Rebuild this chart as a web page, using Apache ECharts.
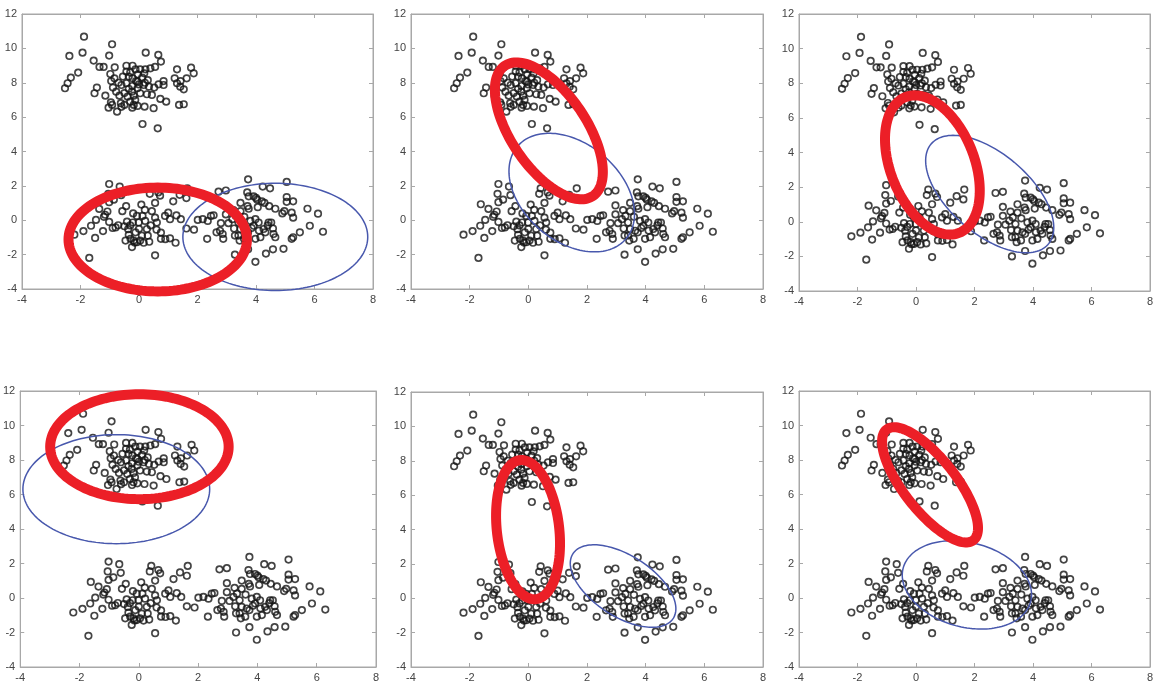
<!DOCTYPE html>
<html>
<head>
<meta charset="utf-8">
<script src="https://cdn.jsdelivr.net/npm/echarts@6/dist/echarts.min.js"></script>
<style>
  html, body { margin: 0; padding: 0; background: #fff; }
  #main { width: 1158px; height: 683px; }
</style>
</head>
<body>
<div id="main"></div>
<script>
// same points in every panel
var upperPts = [
  [-1.88,10.68],[-0.92,10.24],[-2.38,9.56],[-1.93,9.75],[-1.02,9.58],[0.23,9.75],[0.66,9.62],[0.75,9.23],
  [-1.55,9.29],[-1.35,8.92],[-1.21,8.92],[-2.08,8.59],[-2.33,8.30],[-2.44,7.97],[-2.53,7.68],
  [-0.83,8.90],[-0.43,8.99],[-0.22,8.99],[-0.12,8.78],[0.04,8.78],[0.22,8.78],[0.39,8.84],[0.55,8.92],
  [-0.04,8.49],[0.18,8.55],[-0.43,8.65],[-0.55,8.36],[-0.35,8.36],[-0.22,8.26],[0.11,8.30],[0.30,8.15],
  [-0.98,8.51],[-0.84,8.26],[-0.95,8.10],[-0.60,7.87],[-0.43,7.97],[-0.23,7.81],[-0.05,8.07],[0.16,7.87],
  [0.34,7.77],[0.52,7.72],[0.67,7.91],[0.84,8.10],[0.84,7.87],[-0.89,7.72],[-0.78,7.48],[-0.67,7.25],
  [-0.39,7.19],[-0.24,7.48],[-0.18,7.25],[-0.05,7.68],[0.04,7.39],[0.27,7.33],[0.44,7.29],[-0.13,7.00],
  [-0.18,6.71],[-0.05,6.65],[-0.23,6.55],[-0.50,6.71],[-0.62,6.81],[-0.92,6.71],[-1.04,6.55],[-0.75,6.32],
  [-0.96,6.86],[-1.15,7.25],[-1.52,7.39],[-1.44,7.72],[0.19,6.61],[0.50,6.52],[0.73,7.06],[0.93,6.90],
  [1.37,6.71],[1.53,6.75],[1.30,8.78],[1.63,8.26],[1.78,8.88],[1.87,8.55],[1.22,8.26],[1.30,7.97],
  [1.41,7.77],[1.53,7.62],[0.12,5.60],[0.64,5.35],
  [-0.30,8.60],[-0.10,8.10],[0.00,7.90],[-0.35,7.65],[-0.50,7.40],[-0.30,6.90],[0.20,8.00],[1.42,8.10],
  [-0.70,8.00],[-0.60,6.60]
];
var lowerLeftPts = [
  [-1.02,2.11],[-0.66,1.96],[-1.05,1.54],[-0.61,1.46],[-1.62,0.93],[-1.36,0.66],[-1.02,1.05],[-0.86,1.20],
  [-1.08,0.51],[-1.16,0.32],[-1.47,0.02],[-1.64,-0.32],[-1.90,-0.63],[-2.21,-0.84],[-1.50,-1.03],[-1.70,-2.19],
  [-1.23,-0.63],[-1.02,-0.10],[-0.80,-0.42],[-0.71,-0.29],[-0.57,0.53],[-0.44,0.82],[-0.41,-0.08],[-0.37,-0.52],
  [-0.46,-1.18],[-0.29,-1.08],[-0.24,-1.56],[-0.18,-1.18],[-0.07,-1.28],[0.04,-1.18],[0.16,-1.31],[-0.12,-0.70],
  [-0.01,-0.13],[0.08,0.91],[0.12,0.25],[-0.07,0.25],[-0.21,-0.13],[0.21,-0.04],[0.27,-0.51],[0.44,0.53],
  [0.55,1.01],[0.42,1.86],[0.37,1.54],[0.66,1.62],[0.72,1.43],[0.61,-0.13],[0.55,0.15],[0.75,-0.72],
  [0.75,-1.08],[0.89,0.25],[1.00,0.44],[1.06,-1.05],[1.25,-1.31],[1.17,1.10],[1.39,1.48],[1.65,1.86],
  [1.62,1.29],[0.55,-2.04],[1.06,0.06],[1.28,0.28],[1.43,0.06],[1.62,-0.48],[1.88,-0.55],[2.01,0.02],
  [2.18,0.06],[2.35,-0.04],[2.33,-1.08],[2.55,0.29],
  [-0.30,-0.30],[-0.20,0.40],[0.00,-0.50],[0.10,-0.90],[0.30,-0.90],[0.40,-0.30],[-0.35,-0.85],[0.20,0.60],
  [0.90,-1.10],[-0.90,-0.45],[-1.20,0.20],[-0.50,-0.35],[0.60,-0.55],[0.35,-1.25],[-0.15,-1.30]
];
var lowerRightPts = [
  [3.73,2.38],[4.23,1.96],[4.48,1.86],[5.05,2.23],[2.72,1.66],[2.97,1.73],[3.70,1.62],[3.92,1.39],
  [4.04,1.20],[4.20,1.10],[4.29,1.01],[3.75,1.39],[5.05,1.35],[5.05,1.07],[5.27,1.10],[2.97,0.86],
  [2.97,0.34],[3.23,0.59],[3.47,0.53],[3.71,0.82],[3.75,0.67],[4.06,0.76],[4.45,0.82],[4.66,0.67],
  [4.97,0.53],[5.22,0.44],[5.27,0.15],[5.76,0.67],[6.12,0.38],[5.84,-0.32],[5.50,-0.70],[6.29,-0.67],
  [2.46,0.25],[2.80,-0.17],[2.77,-0.61],[2.65,-0.70],[2.88,-1.08],[2.86,-0.80],[3.06,-0.17],[3.19,0.06],
  [3.31,0.25],[3.40,-0.13],[3.25,-0.48],[3.47,-0.51],[3.64,-0.61],[3.40,-0.89],[3.28,-0.89],[3.44,-1.18],
  [3.59,-1.08],[3.73,-0.70],[3.81,-0.04],[3.92,-0.32],[3.98,0.06],[4.09,-0.13],[4.26,-0.51],[4.32,-0.70],
  [4.43,-0.13],[4.52,-0.13],[4.60,-0.80],[4.66,-0.99],[4.58,-0.48],[5.22,-1.08],[5.27,-0.99],[3.98,-1.08],
  [4.15,-0.99],[3.28,-2.00],[3.73,-1.69],[4.34,-1.94],[4.58,-1.69],[4.94,-1.66],[3.98,-2.42],[3.47,1.01],
  [4.90,0.40],[3.85,-0.45],[4.10,-0.60],[3.60,0.20],[4.00,1.30],[4.40,-0.30]
];

// ellipses per panel: [centre x, centre y, half width, half height, tilt (corr)]
var redEllipses = [
  [0.64, -1.12, 3.05, 3.02, 0.0],
  [0.70, 5.20, 1.84, 3.98, -0.60],
  [0.56, 3.28, 1.62, 4.02, -0.37],
  [0.02, 8.77, 3.01, 3.04, 0.0],
  [-0.01, 3.99, 1.09, 4.05, -0.20],
  [0.48, 6.56, 1.64, 3.34, -0.75]
];
var blueEllipses = [
  [4.66, -0.97, 3.16, 3.12, 0.0],
  [1.48, 1.61, 2.14, 3.45, -0.36],
  [2.52, 1.60, 2.19, 3.39, -0.57],
  [-0.76, 6.31, 3.15, 3.16, 0.0],
  [3.23, 0.71, 1.80, 2.40, -0.55],
  [1.74, 0.76, 2.21, 2.56, -0.22]
];

var xMin = -4, xMax = 8, yMin = -4, yMax = 12, tickStep = 2;

// panel boxes [left, top, width, height]
var boxes = [
  [22, 14, 351, 275], [411, 14, 352, 275], [799, 14, 351, 277],
  [20, 391, 356, 280], [411, 392, 352, 278], [799, 391, 351, 279]
];

var allPts = upperPts.concat(lowerLeftPts, lowerRightPts);
var frameColor = '#a8a8a8';

function ellipseRenderer(color, width) {
  return function (params, api) {
    var cx = api.value(0), cy = api.value(1), hx = api.value(2), hy = api.value(3), r = api.value(4);
    var s = Math.sqrt(1 - r * r);
    var pts = [];
    for (var i = 0; i <= 144; i++) {
      var t = i / 144 * 2 * Math.PI;
      pts.push(api.coord([cx + hx * Math.cos(t), cy + hy * (r * Math.cos(t) + s * Math.sin(t))]));
    }
    return {
      type: 'polygon',
      shape: { points: pts },
      style: { fill: 'none', stroke: color, lineWidth: width }
    };
  };
}

var grid = [], xAxis = [], yAxis = [], series = [];
for (var p = 0; p < 6; p++) {
  var b = boxes[p];
  grid.push({ left: b[0], top: b[1], width: b[2], height: b[3], show: true, borderColor: frameColor, borderWidth: 1 });
  var common = {
    type: 'value', gridIndex: p, interval: tickStep,
    axisLine: { show: true, onZero: false, lineStyle: { color: frameColor, width: 1 } },
    axisTick: { show: true, inside: true, length: 4, lineStyle: { color: frameColor } },
    splitLine: { show: false }
  };
  xAxis.push(Object.assign({}, common, {
    min: xMin, max: xMax, position: 'bottom',
    axisLabel: { color: '#444', fontSize: 11, fontFamily: 'Liberation Sans', margin: 5 }
  }));
  xAxis.push(Object.assign({}, common, {
    min: xMin, max: xMax, position: 'top', axisLabel: { show: false }
  }));
  yAxis.push(Object.assign({}, common, {
    min: yMin, max: yMax, position: 'left',
    axisLabel: { color: '#444', fontSize: 11, fontFamily: 'Liberation Sans', margin: 5 }
  }));
  yAxis.push(Object.assign({}, common, {
    min: yMin, max: yMax, position: 'right', axisLabel: { show: false }
  }));

  series.push({
    type: 'scatter', xAxisIndex: p * 2, yAxisIndex: p * 2,
    data: allPts, symbol: 'circle', symbolSize: 6.5,
    itemStyle: { color: 'rgba(0,0,0,0)', borderColor: '#151515', borderWidth: 1.7 },
    animation: false, silent: true
  });
  series.push({
    type: 'custom', xAxisIndex: p * 2, yAxisIndex: p * 2,
    data: [blueEllipses[p]], renderItem: ellipseRenderer('#4858ad', 1.5),
    animation: false, silent: true, z: 3
  });
  series.push({
    type: 'custom', xAxisIndex: p * 2, yAxisIndex: p * 2,
    data: [redEllipses[p]], renderItem: ellipseRenderer('#ec1f27', 10),
    animation: false, silent: true, z: 4
  });
}

var chart = echarts.init(document.getElementById('main'));
chart.setOption({
  backgroundColor: '#fff',
  animation: false,
  grid: grid,
  xAxis: xAxis,
  yAxis: yAxis,
  series: series
});
</script>
</body>
</html>
